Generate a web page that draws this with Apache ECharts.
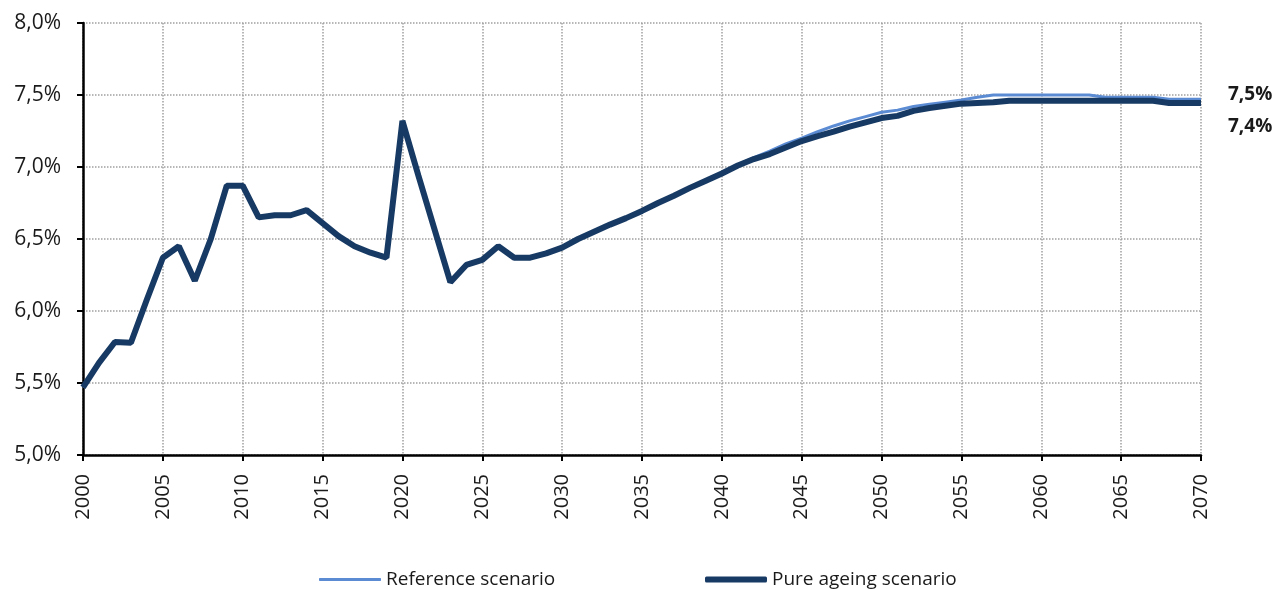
<!DOCTYPE html>
<html>
<head>
<meta charset="utf-8">
<script src="https://cdn.jsdelivr.net/npm/echarts@6/dist/echarts.min.js"></script>
<style>
    html, body { margin: 0; padding: 0; background: #fff; }
    #chart { width: 1278px; height: 590px; }
</style>
</head>
<body>
<div id="chart"></div>
<script>
// years 2000..2070
var years = [];
for (var y = 2000; y <= 2070; y++) years.push(String(y));

var pureAgeing = [
    5.47, 5.64, 5.785, 5.78, 6.08, 6.37, 6.45, 6.21, 6.50, 6.87,
    6.87, 6.65, 6.665, 6.665, 6.70, 6.61, 6.52, 6.45, 6.405, 6.37,
    7.32, 6.94, 6.57, 6.20, 6.32, 6.355, 6.45, 6.37, 6.37, 6.40,
    6.44, 6.50, 6.55, 6.60, 6.645, 6.695, 6.75, 6.80, 6.855, 6.905,
    6.955, 7.01, 7.055, 7.09, 7.135, 7.18, 7.215, 7.245, 7.28, 7.31,
    7.34, 7.355, 7.39, 7.41, 7.425, 7.44, 7.445, 7.45, 7.46, 7.46,
    7.46, 7.46, 7.46, 7.46, 7.46, 7.46, 7.46, 7.46, 7.445, 7.445,
    7.445
];

var reference = [
    5.47, 5.64, 5.785, 5.78, 6.08, 6.37, 6.45, 6.21, 6.50, 6.87,
    6.87, 6.65, 6.665, 6.665, 6.70, 6.61, 6.52, 6.45, 6.405, 6.37,
    7.32, 6.94, 6.57, 6.20, 6.32, 6.355, 6.45, 6.37, 6.37, 6.40,
    6.44, 6.50, 6.55, 6.60, 6.645, 6.695, 6.75, 6.80, 6.855, 6.905,
    6.955, 7.015, 7.065, 7.11, 7.16, 7.20, 7.245, 7.285, 7.32, 7.35,
    7.38, 7.395, 7.42, 7.435, 7.45, 7.465, 7.485, 7.50, 7.50, 7.50,
    7.50, 7.50, 7.50, 7.50, 7.485, 7.485, 7.485, 7.485, 7.47, 7.47,
    7.47
];

var seriesNames = ['Reference scenario', 'Pure ageing scenario'];
var colors = ['#5b8bd3', '#173a64'];

function pct(v) {
    return v.toFixed(1).replace('.', ',') + '%';
}

var font = '"Open Sans", "Liberation Sans", sans-serif';

var myChart = echarts.init(document.getElementById('chart'));
var option = {
    animation: false,
    textStyle: { fontFamily: font },
    grid: {
        left: 83,
        right: 77,
        top: 23,
        bottom: 135
    },
    legend: [{
        left: 314,
        top: 565,
        icon: 'roundRect',
        itemWidth: 62,
        itemHeight: 3,
        itemGap: 6,
        data: [seriesNames[0]],
        textStyle: { fontSize: 19, color: '#1a1a1a', fontFamily: font }
    }, {
        left: 700,
        top: 565,
        icon: 'roundRect',
        itemWidth: 62,
        itemHeight: 6,
        data: [seriesNames[1]],
        textStyle: { fontSize: 19, color: '#1a1a1a', fontFamily: font }
    }],
    xAxis: {
        type: 'category',
        data: years,
        boundaryGap: false,
        axisLine: { lineStyle: { color: '#000', width: 2.5 } },
        axisTick: { show: true, interval: 4, length: 6, lineStyle: { color: '#000', width: 2 } },
        axisLabel: {
            interval: 4,
            rotate: 90,
            margin: 19,
            fontSize: 20,
            color: '#1a1a1a',
            fontFamily: font
        },
        splitLine: {
            show: true,
            interval: 4,
            lineStyle: { color: '#a0a0a0', type: 'dotted', width: 1.5 }
        }
    },
    yAxis: {
        type: 'value',
        min: 5,
        max: 8,
        interval: 0.5,
        axisLine: { show: true, lineStyle: { color: '#000', width: 2.5 } },
        axisTick: { show: true, length: 6, lineStyle: { color: '#000', width: 2 } },
        axisLabel: {
            formatter: pct,
            fontSize: 21,
            color: '#1a1a1a',
            margin: 22,
            fontFamily: font
        },
        splitLine: {
            lineStyle: { color: '#a0a0a0', type: 'dotted', width: 1.5 }
        }
    },
    series: [{
        name: seriesNames[0],
        type: 'line',
        data: reference,
        symbol: 'none',
        lineStyle: { color: colors[0], width: 3 },
        itemStyle: { color: colors[0] },
        endLabel: {
            show: true,
            formatter: function(p) { return pct(p.value); },
            distance: 27,
            offset: [0, -5],
            fontSize: 19,
            fontWeight: 'bold',
            color: '#1a1a1a',
            fontFamily: font
        }
    }, {
        name: seriesNames[1],
        type: 'line',
        data: pureAgeing,
        symbol: 'none',
        lineStyle: { color: colors[1], width: 6 },
        itemStyle: { color: colors[1] },
        endLabel: {
            show: true,
            formatter: function(p) { return pct(p.value); },
            distance: 27,
            offset: [0, 24],
            fontSize: 19,
            fontWeight: 'bold',
            color: '#1a1a1a',
            fontFamily: font
        }
    }]
};
myChart.setOption(option);
</script>
</body>
</html>
